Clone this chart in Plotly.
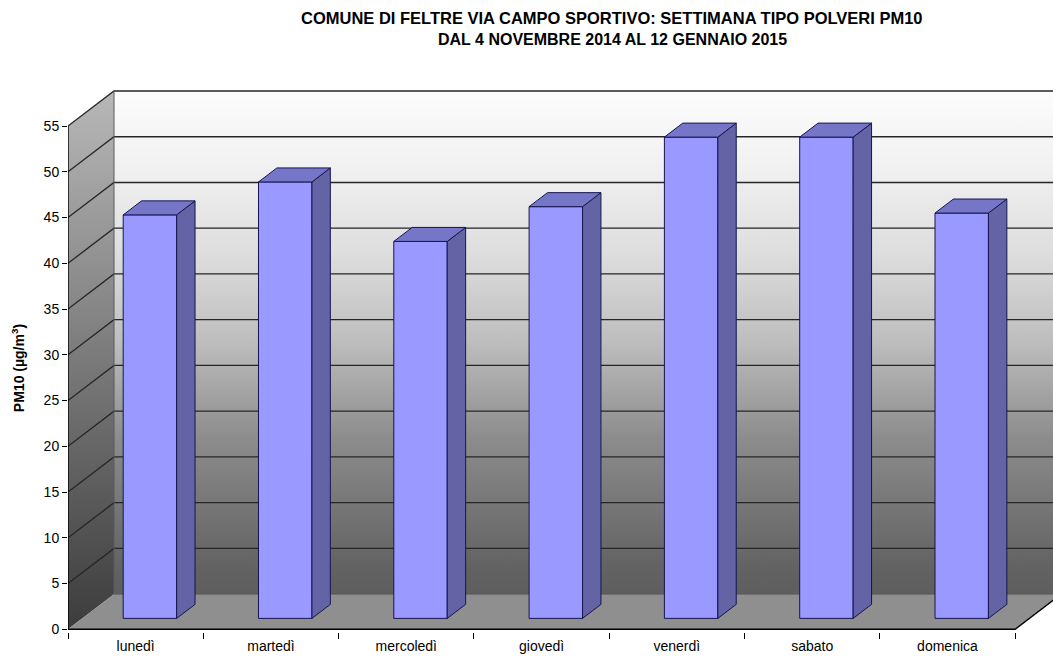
import plotly.graph_objects as go

# Settimana tipo PM10 - Feltre, via Campo Sportivo
giorni = ["lunedì", "martedì", "mercoledì", "giovedì", "venerdì", "sabato", "domenica"]
pm10 = [44.1, 47.7, 41.2, 45.0, 52.6, 52.6, 44.3]
y_ticks = list(range(0, 56, 5))

titolo_1 = "COMUNE DI FELTRE VIA CAMPO SPORTIVO: SETTIMANA TIPO POLVERI PM10"
titolo_2 = "DAL 4 NOVEMBRE 2014 AL 12 GENNAIO 2015"
titolo_y = "PM10 (µg/m<sup>3</sup>)"

# ---- oblique 3-D box projection (depth expressed in axis units) ----
DX = 0.34          # horizontal shift of the back plane, in category units
DY = 3.83          # vertical shift of the back plane, in value units
Z0, Z1 = 0.31, 0.71  # depth slab occupied by the columns (0 = front, 1 = back)
BAR_W = 0.395
V_MAX = 55
X_RANGE = [0, 7.28]
Y_RANGE = [-0.3, 60.03]

n = len(giorni)
x_far = n + DX + 0.5
FONT = "Liberation Sans, Arial, sans-serif"

fig = go.Figure()

# back wall with vertical gradient
fig.add_trace(go.Scatter(
    x=[DX, x_far, x_far, DX, DX], y=[DY, DY, V_MAX + DY, V_MAX + DY, DY],
    mode="lines", line=dict(width=0), fill="toself",
    fillgradient=dict(type="vertical", colorscale=[
        [0.0, "#5e5e5e"], [0.05, "#626262"], [0.31, "#8c8c8c"], [0.5, "#bdbdbd"],
        [0.68, "#dedede"], [0.86, "#f2f2f2"], [1.0, "#fcfcfc"]]),
    hoverinfo="skip", showlegend=False))

# left side wall
fig.add_trace(go.Scatter(
    x=[0, DX, DX, 0, 0], y=[0, DY, V_MAX + DY, V_MAX, 0],
    mode="lines", line=dict(width=0), fill="toself",
    fillgradient=dict(type="vertical", colorscale=[[0, "#3c3c3c"], [1, "#b8b8b8"]]),
    hoverinfo="skip", showlegend=False))

# floor
fig.add_trace(go.Scatter(
    x=[0, n, n + DX, DX, 0], y=[0, 0, DY, DY, 0],
    mode="lines", line=dict(width=0), fill="toself", fillcolor="#8f8f8f",
    hoverinfo="skip", showlegend=False))

# gridlines: diagonal on the side wall, horizontal on the back wall
gx, gy = [], []
for v in y_ticks[1:]:
    gx += [0, DX, x_far, None]
    gy += [v, v + DY, v + DY, None]
fig.add_trace(go.Scatter(x=gx, y=gy, mode="lines",
                         line=dict(color="#262626", width=1.3),
                         hoverinfo="skip", showlegend=False))

# back floor edge and back corner
fig.add_trace(go.Scatter(x=[DX, x_far, None, DX, DX], y=[DY, DY, None, DY, V_MAX + DY],
                         mode="lines", line=dict(color="#5a5a5a", width=1),
                         hoverinfo="skip", showlegend=False))

# front value axis and floor front/right edges
fig.add_trace(go.Scatter(x=[0, 0, None, 0, n, n + DX], y=[V_MAX, 0, None, 0, 0, DY],
                         mode="lines", line=dict(color="#000000", width=1.4),
                         hoverinfo="skip", showlegend=False))

# ---- columns (overlay axes so they sit above the walls) ----
b0 = Z0 * DY
xc = [i + 0.5 + Z0 * DX for i in range(n)]
ddx = (Z1 - Z0) * DX
ddy = (Z1 - Z0) * DY
edge = dict(color="#161650", width=1)

fig.add_trace(go.Bar(x=xc, y=pm10, base=b0, width=BAR_W,
                     marker=dict(color="#9999ff", line=edge),
                     xaxis="x2", yaxis="y2", hoverinfo="skip", showlegend=False))

for x0, v in zip(xc, pm10):
    xl, xr = x0 - BAR_W / 2, x0 + BAR_W / 2
    top = b0 + v
    # right side face
    fig.add_trace(go.Scatter(
        x=[xr, xr + ddx, xr + ddx, xr, xr], y=[b0, b0 + ddy, top + ddy, top, b0],
        mode="lines", line=edge, fill="toself", fillcolor="#6363a6",
        xaxis="x2", yaxis="y2", hoverinfo="skip", showlegend=False))
    # top face
    fig.add_trace(go.Scatter(
        x=[xl, xr, xr + ddx, xl + ddx, xl], y=[top, top, top + ddy, top + ddy, top],
        mode="lines", line=edge, fill="toself", fillcolor="#7676c8",
        xaxis="x2", yaxis="y2", hoverinfo="skip", showlegend=False))

W, H = 1053, 657
M_L, M_R, M_T, M_B = 68, 0, 80, 25.26
plot_h = H - M_T - M_B
plot_w = W - M_L - M_R


def py(px):
    return (H - M_B - px) / plot_h


def px_(xp):
    return (xp - M_L) / plot_w


fig.update_layout(
    width=W, height=H,
    margin=dict(l=M_L, r=M_R, t=M_T, b=M_B),
    paper_bgcolor="white", plot_bgcolor="white",
    font=dict(family=FONT, color="#000000"),
    showlegend=False, hovermode=False, barmode="overlay",
    xaxis=dict(range=X_RANGE, tickmode="array",
               tickvals=[i + 0.5 for i in range(n)], ticktext=giorni,
               ticks="", showgrid=False, zeroline=False, showline=False,
               tickfont=dict(size=14, family=FONT), ticklabelstandoff=4,
               minor=dict(tickmode="array", tickvals=list(range(n + 1)),
                          ticks="outside", ticklen=6, tickcolor="#000000",
                          tickwidth=1, showgrid=False)),
    yaxis=dict(range=Y_RANGE, tickmode="array", tickvals=y_ticks,
               ticks="outside", ticklen=5, tickcolor="#000000",
               showgrid=False, zeroline=False, showline=False,
               tickfont=dict(size=14, family=FONT)),
    xaxis2=dict(overlaying="x", anchor="y2", range=X_RANGE, visible=False),
    yaxis2=dict(overlaying="y", anchor="x2", range=Y_RANGE, visible=False),
    annotations=[
        dict(text="<b>" + titolo_1 + "</b>", xref="paper", yref="paper",
             x=px_(612), y=py(18), xanchor="center", yanchor="middle",
             showarrow=False, font=dict(size=16.5, family=FONT)),
        dict(text="<b>" + titolo_2 + "</b>", xref="paper", yref="paper",
             x=px_(612), y=py(40), xanchor="center", yanchor="middle",
             showarrow=False, font=dict(size=16, family=FONT)),
        dict(text="<b>" + titolo_y + "</b>", xref="paper", yref="paper",
             x=px_(18), y=py(368), xanchor="center", yanchor="middle",
             textangle=-90, showarrow=False, font=dict(size=14, family=FONT)),
    ],
)

fig.write_html("out.html")
